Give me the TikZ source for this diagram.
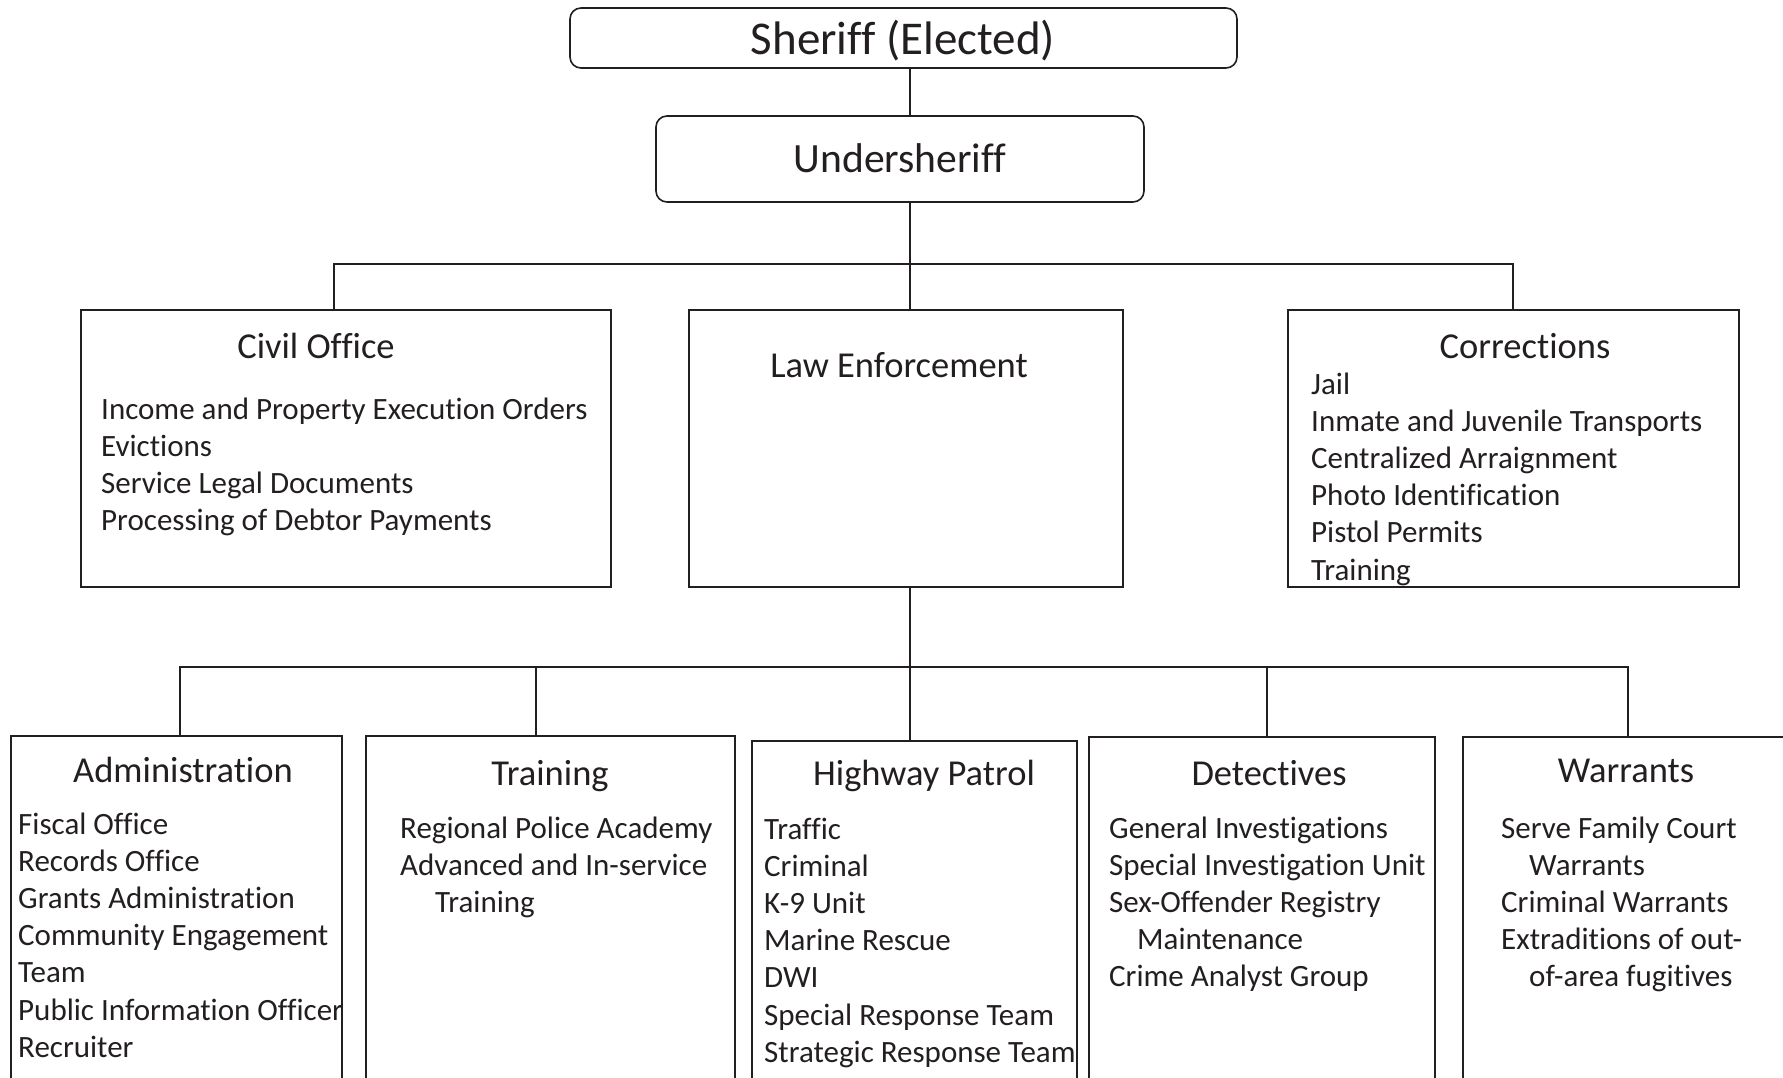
\documentclass[tikz,border=0pt]{standalone}
\usepackage{fontspec}
\setmainfont{Carlito}[Ligatures={NoCommon}]
\definecolor{ink}{HTML}{231F20}
\begin{document}
\begin{tikzpicture}[x=1pt,y=-1pt,
  box/.style={draw=ink, line width=1.6pt, inner sep=0pt, outer sep=0pt, anchor=north west},
  rbox/.style={box, rounded corners=11pt},
  conn/.style={draw=ink, line width=1.5pt},
  head/.style={anchor=base, inner sep=0pt, text=ink, font=\fontsize{36.5}{44}\selectfont},
  item/.style={anchor=base west, inner sep=0pt, text=ink, font=\fontsize{31}{37}\selectfont}]
\useasboundingbox (0,0) rectangle (1783,1077);
\clip (0,0) rectangle (1783,1077);
\fill[white] (0,0) rectangle (1783,1077);

% boxes
\node[rbox, minimum width=667pt, minimum height=60pt] (sheriff) at (570,8) {};
\node[rbox, minimum width=488pt, minimum height=86pt] (under) at (656,116) {};
\node[box, minimum width=530pt, minimum height=277pt] (civil) at (81,310) {};
\node[box, minimum width=434pt, minimum height=277pt] (law) at (689,310) {};
\node[box, minimum width=451pt, minimum height=277pt] (corr) at (1288,310) {};
\node[box, minimum width=331pt, minimum height=400pt] (admin) at (11,736) {};
\node[box, minimum width=369pt, minimum height=400pt] (train) at (366,736) {};
\node[box, minimum width=325pt, minimum height=400pt] (hwy) at (752,741) {};
\node[box, minimum width=346pt, minimum height=400pt] (det) at (1089,737) {};
\node[box, minimum width=400pt, minimum height=400pt] (warr) at (1463,737) {};

% connector positions
\coordinate (spine) at (910,0);
\coordinate (bar1) at (0,264);
\coordinate (bar2) at (0,667);
\coordinate (c1) at (334,0);
\coordinate (c3) at (1513,0);
\coordinate (d1) at (180,0);
\coordinate (d2) at (536,0);
\coordinate (d4) at (1267,0);
\coordinate (d5) at (1628,0);

\draw[conn] (spine |- sheriff.south) -- (spine |- under.north);
\draw[conn] (spine |- under.south) -- (spine |- law.north);
\draw[conn] (c1 |- civil.north) -- (c1 |- bar1) -- (c3 |- bar1) -- (c3 |- corr.north);
\draw[conn] (spine |- law.south) -- (spine |- hwy.north);
\draw[conn] (d1 |- admin.north) -- (d1 |- bar2) -- (d5 |- bar2) -- (d5 |- warr.north);
\draw[conn] (d2 |- bar2) -- (d2 |- train.north);
\draw[conn] (d4 |- bar2) -- (d4 |- det.north);

% titles
\node[head, font=\fontsize{47}{56}\selectfont] (tsheriff) at (903,54) {Sheriff (Elected)};
\node[head, font=\fontsize{41.6}{50}\selectfont] (tunder) at (900,172) {Undersheriff};
\node[head] (tcivil) at (316,358) {Civil Office};
\node[head] (tlaw) at (899,377) {Law Enforcement};
\node[head] (tcorr) at (1525,358) {Corrections};
\node[head] (tadmin) at (183,782) {Administration};
\node[head] (ttrain) at (550,785) {Training};
\node[head] (thwy) at (924,785) {Highway Patrol};
\node[head] (tdet) at (1269,785) {Detectives};
\node[head] (twarr) at (1626,782) {Warrants};

% items
\foreach \t [count=\i] in {Income and Property Execution Orders, Evictions, Service Legal Documents, Processing of Debtor Payments}
  \node[item] (civ\i) at (101, 419+37.3*\i-37.3) {\t};
\foreach \t [count=\i] in {Jail, Inmate and Juvenile Transports, Centralized Arraignment, Photo Identification, Pistol Permits, Training}
  \node[item] (cor\i) at (1311, 394+37.2*\i-37.2) {\t};
\foreach \t [count=\i] in {Fiscal Office, Records Office, Grants Administration, Community Engagement, Team, Public Information Officer, Recruiter}
  \node[item] (adm\i) at (18, 834+37.2*\i-37.2) {\t};
\node[item] (trn1) at (400,838) {Regional Police Academy};
\node[item] (trn2) at (400,875) {Advanced and In-service};
\node[item] (trn3) at (435,912) {Training};
\foreach \t [count=\i] in {Traffic, Criminal, K-9 Unit, Marine Rescue, DWI, Special Response Team, Strategic Response Team}
  \node[item] (hw\i) at (764, 839+37.2*\i-37.2) {\t};
\node[item] (det1) at (1109,838) {General Investigations};
\node[item] (det2) at (1109,875) {Special Investigation Unit};
\node[item] (det3) at (1109,912) {Sex-Offender Registry};
\node[item] (det4) at (1137,949) {Maintenance};
\node[item] (det5) at (1109,986) {Crime Analyst Group};
\node[item] (war1) at (1501,838) {Serve Family Court};
\node[item] (war2) at (1529,875) {Warrants};
\node[item] (war3) at (1501,912) {Criminal Warrants};
\node[item] (war4) at (1501,949) {Extraditions of out-};
\node[item] (war5) at (1529,986) {of-area fugitives};
\end{tikzpicture}
\end{document}
